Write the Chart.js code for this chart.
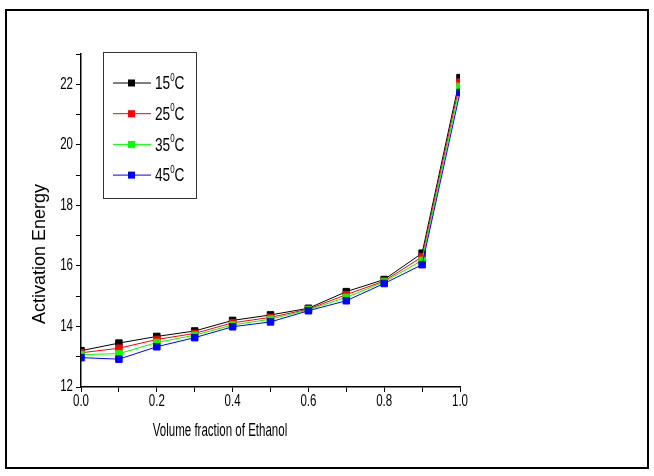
<!DOCTYPE html>
<html>
<head>
<meta charset="utf-8">
<script src="https://cdn.jsdelivr.net/npm/chart.js@4.4.1/dist/chart.umd.min.js"></script>
<style>
  html, body { margin: 0; padding: 0; background: #fff; }
  canvas { display: block; }
</style>
</head>
<body>
<canvas id="energyChart" width="654" height="476"></canvas>
<script>
// volume fraction of ethanol and activation energy at each temperature
const fractions = [0.0, 0.1, 0.2, 0.3, 0.4, 0.5, 0.6, 0.7, 0.8, 0.9, 1.0];
const temps = ['15', '25', '35', '45'];
const energy15 = [13.20, 13.45, 13.67, 13.85, 14.20, 14.38, 14.60, 15.15, 15.55, 16.42, 22.22];
const energy25 = [13.13, 13.28, 13.57, 13.77, 14.12, 14.30, 14.57, 15.05, 15.50, 16.30, 22.07];
const energy35 = [13.07, 13.10, 13.47, 13.71, 14.05, 14.24, 14.55, 14.96, 15.47, 16.18, 21.93];
const energy45 = [12.97, 12.92, 13.33, 13.63, 13.99, 14.15, 14.52, 14.85, 15.42, 16.04, 21.73];
const series = [energy15, energy25, energy35, energy45];
const colors = ['#000000', '#ff0000', '#00ff00', '#0000ff'];

const FONT = "'Liberation Sans', Arial, sans-serif";

const datasets = series.map((vals, i) => ({
  label: temps[i] + '\u2070C',
  data: vals.map((v, j) => ({ x: fractions[j], y: v })),
  borderColor: colors[i],
  backgroundColor: colors[i],
  borderWidth: 1,
  pointStyle: 'rect',
  pointRadius: 4.6,
  pointBorderWidth: 1,
  pointBorderColor: colors[i],
  order: series.length - 1 - i   // blue ends up on top
}));

// horizontally condensed text
function squeezed(ctx, text, x, y, size, align, sx = 0.72) {
  ctx.save();
  ctx.font = size + 'px ' + FONT;
  ctx.textBaseline = 'middle';
  ctx.textAlign = align || 'left';
  ctx.translate(x, y);
  ctx.scale(sx, 1);
  ctx.fillText(text, 0, 0);
  const w = ctx.measureText(text).width * sx;
  ctx.restore();
  return w;
}

// "15⁰C" style text with a small raised zero
function degreeText(ctx, x, y, t, size) {
  x += squeezed(ctx, t, x, y, size);
  x += squeezed(ctx, '0', x, y - size * 0.33, Math.round(size * 0.6));
  squeezed(ctx, 'C', x, y, size);
}

const decor = {
  id: 'decor',
  beforeDraw(chart) {
    const ctx = chart.ctx;
    ctx.save();
    ctx.fillStyle = '#fff';
    ctx.fillRect(0, 0, chart.width, chart.height);
    ctx.restore();
  },
  afterDraw(chart) {
    const ctx = chart.ctx;
    const xs = chart.scales.x, ys = chart.scales.y;
    ctx.save();
    ctx.fillStyle = '#000';

    // tick labels on the even steps
    xs.ticks.forEach(t => {
      if (Math.round(t.value * 10) % 2 !== 0) return;
      squeezed(ctx, t.value.toFixed(1), xs.getPixelForValue(t.value), 402, 16, 'center');
    });
    ys.ticks.forEach(t => {
      if (t.value % 2 !== 0) return;
      squeezed(ctx, String(t.value), 73, ys.getPixelForValue(t.value), 16, 'right');
    });

    // outer frame
    ctx.strokeStyle = '#000';
    ctx.lineWidth = 2;
    ctx.strokeRect(6, 10, 642, 458);

    // legend
    ctx.lineWidth = 1;
    ctx.strokeStyle = '#333';
    ctx.strokeRect(103.5, 52.5, 93, 146);
    temps.forEach((t, i) => {
      const y = 83 + i * 30.7;
      ctx.strokeStyle = colors[i];
      ctx.beginPath();
      ctx.moveTo(113, y);
      ctx.lineTo(151, y);
      ctx.stroke();
      ctx.fillStyle = colors[i];
      ctx.fillRect(128, y - 3.5, 7, 7);
      ctx.fillStyle = '#000';
      degreeText(ctx, 155, y + 1, t, 19);
    });

    // axis titles
    squeezed(ctx, 'Volume fraction of Ethanol', 220, 431, 18, 'center', 0.64);
    ctx.translate(40, 254);
    ctx.rotate(-Math.PI / 2);
    ctx.font = '18px ' + FONT;
    ctx.textAlign = 'center';
    ctx.textBaseline = 'middle';
    ctx.fillText('Activation Energy', 0, 0);
    ctx.restore();
  }
};

new Chart(document.getElementById('energyChart'), {
  type: 'line',
  data: { datasets },
  options: {
    responsive: false,
    animation: false,
    devicePixelRatio: 1,
    layout: { padding: { top: 54, right: 194, left: 0, bottom: 0 } },
    plugins: { legend: { display: false }, tooltip: { enabled: false } },
    scales: {
      x: {
        type: 'linear',
        min: 0,
        max: 1,
        afterFit: s => { s.height = 89; },
        border: { color: '#000', width: 1.5 },
        grid: { drawOnChartArea: false, tickLength: 5, color: '#000' },
        ticks: { stepSize: 0.1, autoSkip: false, display: false }
      },
      y: {
        min: 12,
        max: 23,
        afterFit: s => { s.width = 81; },
        border: { color: '#000', width: 1.5 },
        grid: { drawOnChartArea: false, tickLength: 5, color: '#000' },
        ticks: { stepSize: 1, autoSkip: false, display: false }
      }
    }
  },
  plugins: [decor]
});
</script>
</body>
</html>
